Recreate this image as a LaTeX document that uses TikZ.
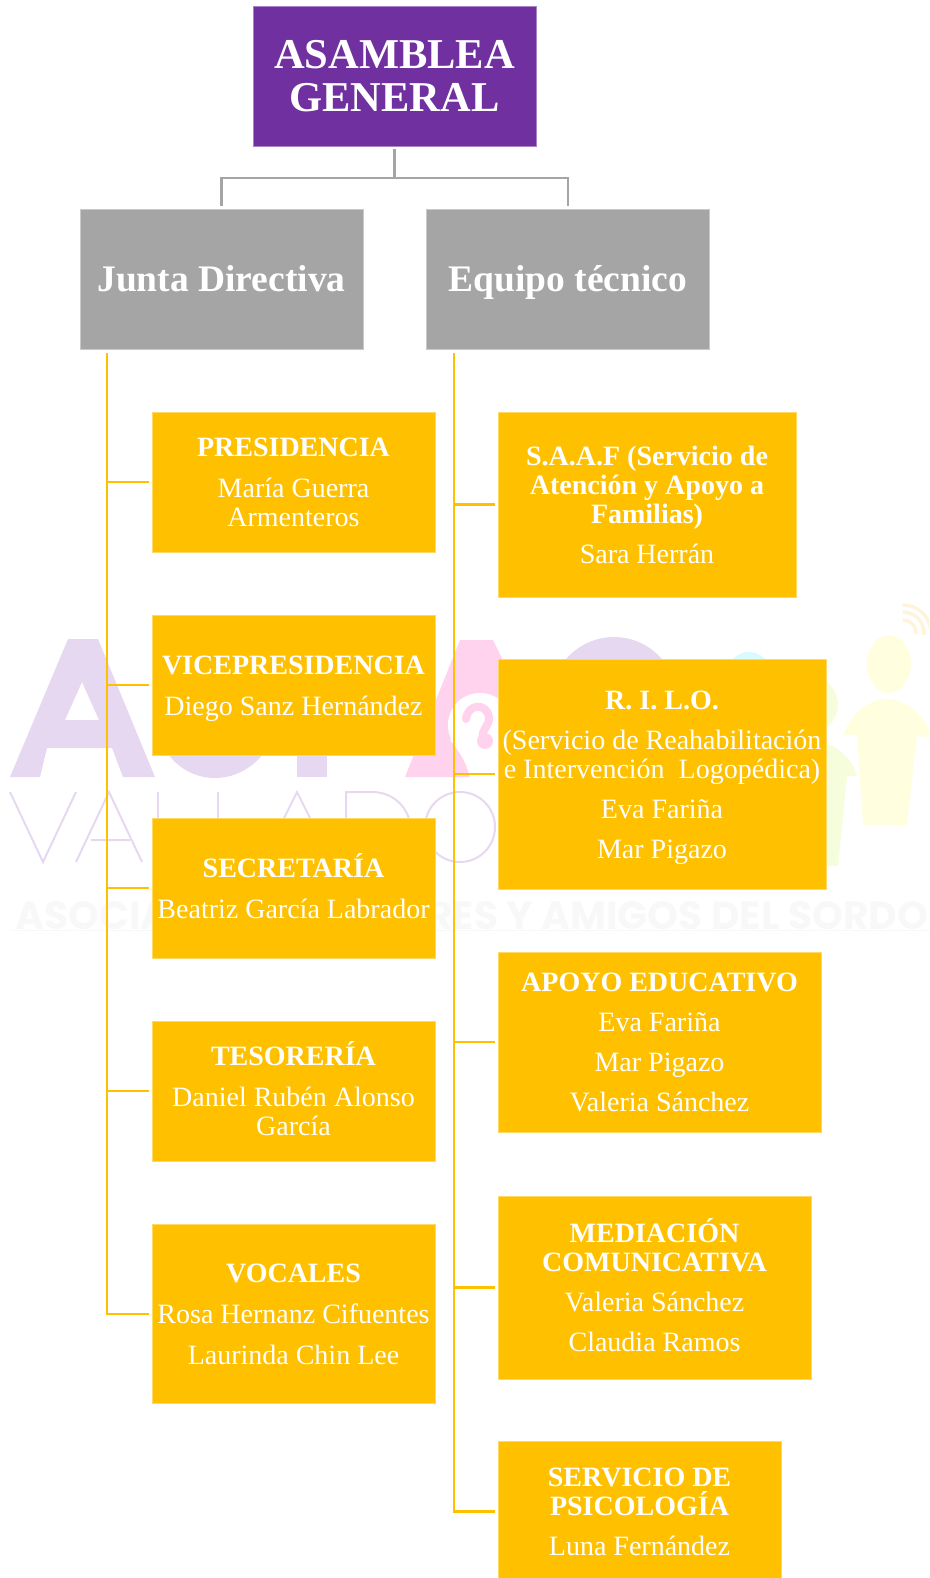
\documentclass[tikz,border=0pt]{standalone}
\usepackage{fontspec}
\setmainfont{Liberation Serif}
\newfontfamily\wmfont{Poppins}
\definecolor{purpleb}{HTML}{7030A0}
\definecolor{grayb}{HTML}{A5A5A5}
\definecolor{goldb}{HTML}{FFC000}
\definecolor{wlilac}{HTML}{E7D8F1}
\definecolor{wpink}{HTML}{FFD3EE}
\definecolor{wyellow}{HTML}{FFFFE0}
\definecolor{wgreen}{HTML}{F6FDDD}
\definecolor{wcyan}{HTML}{D9FBFF}
\definecolor{wtext}{HTML}{F8F8F8}
\definecolor{wwifi}{HTML}{FFF3DC}
\newcommand{\ttl}[1]{\textbf{#1}}
\newcommand{\Fn}[1]{\raisebox{0pt}[19pt][\depth]{\textbf{#1}}}
\newcommand{\Ln}[1]{\raisebox{0pt}[\height][0pt]{#1}}
\tikzset{
  basebox/.style={line width=0.8pt,text=white,align=center,inner sep=0pt,anchor=center,xshift=-0.5pt,yshift=0.5pt},
  topbox/.style={basebox,fill=purpleb,draw=purpleb!60!white,minimum width=283pt,minimum height=140pt,font=\fontsize{42.5}{43}\selectfont},
  midbox/.style={basebox,fill=grayb,draw=grayb!60!white,minimum width=283pt,minimum height=140pt,font=\fontsize{37.5}{38}\selectfont\bfseries},
  ybox/.style={basebox,fill=goldb,draw=goldb!60!white,font=\fontsize{28}{29}\selectfont},
  greyline/.style={draw=grayb,line width=2.6pt},
  goldline/.style={draw=goldb,line width=2.4pt},
  wline/.style={draw=wlilac,line width=2pt},
  wmark/.style={inner sep=0pt,text=wtext,font=\wmfont\bfseries\fontsize{39.3}{39.3}\selectfont}
}
\begin{document}
\begin{tikzpicture}[x=1pt,y=-1pt]
\useasboundingbox (0,0) rectangle (929,1578);
\clip (0,0) rectangle (929,1578);
% watermark
\fill[wlilac,even odd rule] (68,639)--(98,639)--(155,777)--(123,777)--(112,748)--(47,748)--(40,777)--(10,777)--cycle (82,682)--(99,720)--(65,720)--cycle;
\fill[wlilac] (162,745) .. controls (175,768) and (195,778) .. (215,778) .. controls (235,778) and (255,768) .. (270,745) -- cycle;
\fill[wlilac] (297,700) rectangle (327,777);
\fill[wlilac] (614,700) circle (63);
\fill[wcyan] (749,674) circle (22);
\fill[wpink] (460,640)--(493,640)--(560,777)--(405,777)--cycle;
\fill[white] (480,725) circle (32);
\fill[white] (450,740) .. controls (458,750) and (466,760) .. (470,778) -- (505,778) -- (505,700) -- cycle;
\draw[wpink,line width=8pt,line cap=round] (466,719) .. controls (468,703) and (487,703) .. (489,717) .. controls (490,726) and (481,729) .. (483,738);
\fill[wpink] (485,741) circle (8);
\draw[wline] (10,792)--(43,862)--(76,792);
\draw[wline] (76,862)--(109,792)--(142,862) (91,840)--(130,840);
\draw[wline] (158,792)--(158,862) (218,792)--(218,862);
\draw[wline] (262,862)--(297,792)--(332,862);
\draw[wline] (346,862)--(346,792)--(372,792) .. controls (395,792) and (410,810) .. (410,827);
\draw[wline] (460,827) circle (35);
\fill[wgreen] (800,676) .. controls (822,672) and (838,688) .. (838,705) .. controls (838,722) and (822,736) .. (800,733) -- cycle;
\fill[wgreen] (800,743) -- (826,743) .. controls (842,750) and (852,760) .. (857,776) -- (847,776) -- (838,866) -- (800,866) -- cycle;
\fill[wyellow] (889,664) ellipse (22 and 29);
\fill[wyellow] (843,735) .. controls (852,712) and (870,699) .. (887,699) .. controls (905,699) and (925,714) .. (932,738) -- (917,736) -- (907,825) -- (863,825) -- (857,735) -- cycle;
\draw[wwifi,line width=3.5pt] (903,605) arc[start angle=90,end angle=-5,radius=28pt];
\draw[wwifi,line width=3.5pt] (903,612) arc[start angle=90,end angle=-5,radius=21pt];
\draw[wwifi,line width=3.5pt] (903,620) arc[start angle=90,end angle=-5,radius=13pt];
\node[wmark,anchor=base west] (wmtextA) at (15,929) {ASOCIA};
\node[wmark,anchor=base east] (wmtextB) at (928.5,929) {RES Y AMIGOS DEL SORDO};
\fill[wtext] (10,929.5) rectangle (929,931);
% boxes
\node[topbox] (asam) at (395,76.5) {\ttl{ASAMBLEA}\\\ttl{GENERAL}};
\node[midbox] (junta) at (222,279.5) {\raisebox{0pt}[25pt][0pt]{Junta Directiva}};
\node[midbox] (equipo) at (568.5,279.5) {\raisebox{0pt}[25pt][0pt]{Equipo técnico}};
\coordinate (busL) at (221.5,178);
\coordinate (busR) at (568,178);
\coordinate (busM) at (394.5,178);
\coordinate (trunkL) at (107,353);
\coordinate (trunkR) at (454,353);
% left
\node[ybox,minimum width=283pt,minimum height=140pt] (pres) at (294,482.5) {\Fn{PRESIDENCIA}\\[12pt]María Guerra\\\Ln{Armenteros}};
\node[ybox,minimum width=283pt,minimum height=140pt] (vice) at (294,685.5) {\Fn{VICEPRESIDENCIA}\\[12pt]\Ln{Diego Sanz Hernández}};
\node[ybox,minimum width=283pt,minimum height=140pt] (secr) at (294,888.5) {\Fn{SECRETARÍA}\\[12pt]\Ln{Beatriz García Labrador}};
\node[ybox,minimum width=283pt,minimum height=140pt] (teso) at (294,1091.5) {\Fn{TESORERÍA}\\[12pt]Daniel Rubén Alonso\\\Ln{García}};
\node[ybox,minimum width=283pt,minimum height=179pt] (voca) at (294,1314.5) {\Fn{VOCALES}\\[12pt]Rosa Hernanz Cifuentes\\[12pt]\Ln{Laurinda Chin Lee}};
% right
\node[ybox,minimum width=298pt,minimum height=185pt] (saaf) at (647.5,505) {\Fn{S.A.A.F (Servicio de}\\\ttl{Atención y Apoyo a}\\\ttl{Familias)}\\[11pt]\Ln{Sara Herrán}};
\node[ybox,minimum width=328pt,minimum height=230pt] (rilo) at (662.5,774.5) {\Fn{R. I. L.O.}\\[11pt](Servicio de Reahabilitación\\e Intervención\ \ Logopédica)\\[11pt]Eva Fariña\\[11pt]\Ln{Mar Pigazo}};
\node[ybox,minimum width=323pt,minimum height=180pt] (apoy) at (660,1042.5) {\Fn{APOYO EDUCATIVO}\\[11pt]Eva Fariña\\[11pt]Mar Pigazo\\[11pt]\Ln{Valeria Sánchez}};
\node[ybox,minimum width=313pt,minimum height=183pt] (medi) at (655,1288) {\Fn{MEDIACIÓN}\\\ttl{COMUNICATIVA}\\[11pt]Valeria Sánchez\\[11pt]\Ln{Claudia Ramos}};
\node[ybox,minimum width=283pt,minimum height=140pt] (psic) at (640,1512) {\Fn{SERVICIO DE}\\\ttl{PSICOLOGÍA}\\[11pt]\Ln{Luna Fernández}};
% connectors
\draw[greyline] ([yshift=-3pt]asam.south) -- (busM);
\draw[greyline] ([yshift=3pt]junta.north) -- (busL) -- (busR) -- ([yshift=3pt]equipo.north);
\draw[goldline] (trunkL) -- (trunkL |- voca.west) -- ([xshift=-3pt]voca.west);
\draw[goldline] (trunkL |- pres.west) -- ([xshift=-3pt]pres.west);
\draw[goldline] (trunkL |- vice.west) -- ([xshift=-3pt]vice.west);
\draw[goldline] (trunkL |- secr.west) -- ([xshift=-3pt]secr.west);
\draw[goldline] (trunkL |- teso.west) -- ([xshift=-3pt]teso.west);
\draw[goldline] (trunkR) -- (trunkR |- psic.west) -- ([xshift=-3pt]psic.west);
\draw[goldline] (trunkR |- saaf.west) -- ([xshift=-3pt]saaf.west);
\draw[goldline] (trunkR |- rilo.west) -- ([xshift=-3pt]rilo.west);
\draw[goldline] (trunkR |- apoy.west) -- ([xshift=-3pt]apoy.west);
\draw[goldline] (trunkR |- medi.west) -- ([xshift=-3pt]medi.west);
\end{tikzpicture}
\end{document}
